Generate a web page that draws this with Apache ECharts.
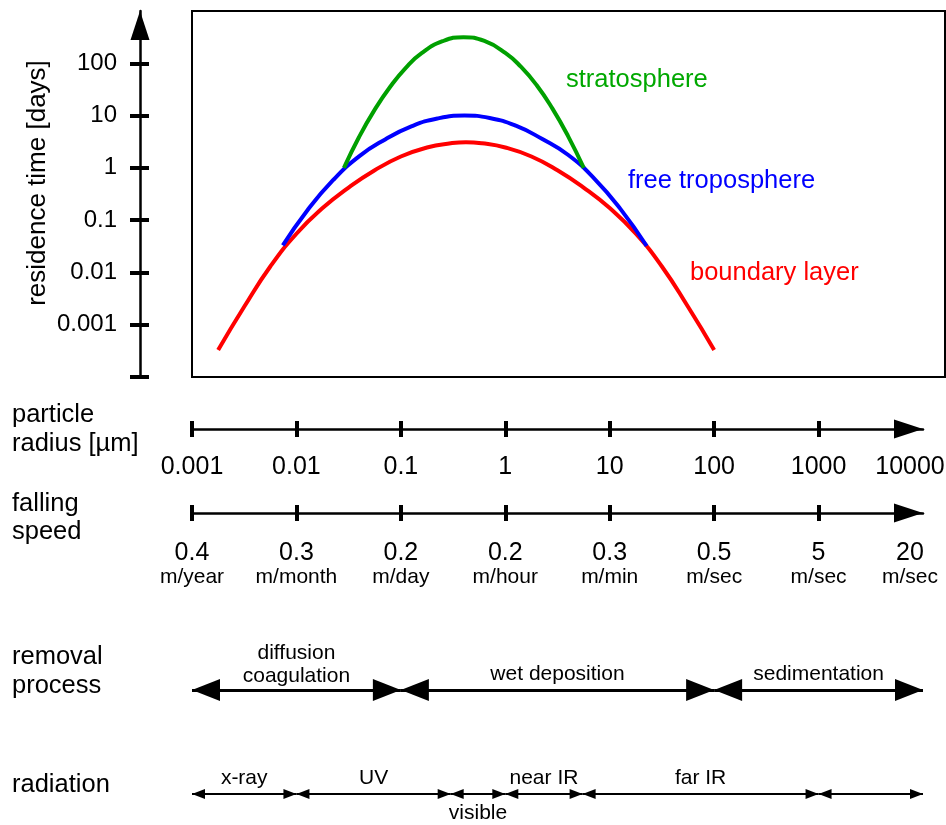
<!DOCTYPE html>
<html lang="en">
<head>
<meta charset="UTF-8">
<title>Aerosol residence time</title>
<script src="https://cdn.jsdelivr.net/npm/echarts@6/dist/echarts.min.js"></script>
<style>html,body{margin:0;padding:0;background:#fff;}</style>
</head>
<body>
<div id="main" style="width:946px;height:825px;"></div>
<script type="text/javascript">
var FONT = '"Liberation Sans", Arial, sans-serif';

// residence time curves: particle radius [µm] and residence time [days]
var boundaryRadius = [0.00178, 0.00316, 0.00562, 0.01, 0.0178, 0.0316, 0.0562, 0.1, 0.178, 0.3,
                      0.42, 0.6, 1, 1.78, 3.16, 5.62, 10, 17.8, 31.6, 56.2, 100];
var boundaryTime   = [3.3e-4, 0.0022, 0.013, 0.055, 0.17, 0.42, 0.9, 1.65, 2.45, 2.95,
                      3.1, 2.95, 2.45, 1.65, 0.9, 0.42, 0.17, 0.055, 0.013, 0.0022, 3.3e-4];
var troposRadius = [0.00741, 0.0126, 0.0224, 0.0398, 0.0708, 0.126, 0.224, 0.407,
                    0.708, 1.26, 2.24, 3.98, 7.08, 12.6, 22.6];
var troposTime   = [0.033, 0.15, 0.58, 1.66, 3.5, 6.2, 8.8, 10,
                    9.0, 6.4, 3.6, 1.78, 0.63, 0.166, 0.032];
var stratoRadius = [0.0285, 0.0398, 0.0562, 0.0794, 0.112, 0.158, 0.251, 0.398,
                    0.631, 1, 1.41, 2.0, 2.82, 3.98, 5.64];
var stratoTime   = [1, 3.9, 13, 36, 83, 156, 264, 316,
                    267, 158, 86, 38, 13.7, 4.1, 1];

// tick labels
var yTickLabels = ['0.001', '0.01', '0.1', '1', '10', '100'];           // 1e-3 .. 1e2
var radiusLabels = ['0.001', '0.01', '0.1', '1', '10', '100', '1000', '10000'];
var speedValues = ['0.4', '0.3', '0.2', '0.2', '0.3', '0.5', '5', '20'];
var speedUnits = ['m/year', 'm/month', 'm/day', 'm/hour', 'm/min', 'm/sec', 'm/sec', 'm/sec'];

// ranges along the radius axis
var removalNames = ['diffusion\ncoagulation', 'wet deposition', 'sedimentation'];
var removalFrom = [0.001, 0.1, 100];
var removalTo = [0.1, 100, 10000];
var radiationNames = ['x-ray', 'UV', 'visible', 'near IR', 'far IR', ''];
var radiationFrom = [0.001, 0.01, 0.3, 1, 5.5, 1000];
var radiationTo = [0.01, 0.3, 1, 5.5, 1000, 10000];

function zip(a, b) {
    return a.map(function (v, i) { return [v, b[i]]; });
}
function decade(v) {
    return Math.round(Math.log10(v));
}

// arrow heads with the tip at the symbol centre
var bigHead = 'path://M11,0 M11,28 L22,56 L0,56 Z';
var smallHead = 'path://M5,0 M5,13 L10,26 L0,26 Z';

var myChart = echarts.init(document.getElementById('main'));

var tickLine = { color: '#000', width: 4 };
var axisArrow = {
    show: true,
    onZero: false,
    lineStyle: { color: '#000', width: 2.5 },
    symbol: ['none', 'triangle'],
    symbolSize: [19, 29],
    symbolOffset: [0, -14.5]
};

function bottomAxis(grid, margin, formatter, rich) {
    return {
        gridIndex: grid, type: 'log', min: 0.001, max: 10000,
        position: 'bottom', offset: -8,
        axisLine: axisArrow,
        axisTick: { show: false },
        splitLine: { show: true, showMinLine: true, showMaxLine: false, lineStyle: tickLine },
        axisLabel: {
            margin: margin, showMinLabel: true, showMaxLabel: true,
            color: '#000', fontFamily: FONT, fontSize: 25,
            formatter: formatter, rich: rich
        }
    };
}

var vStyle = { fontFamily: FONT, fontSize: 25, color: '#000', lineHeight: 25 };
var uStyle = { fontFamily: FONT, fontSize: 21, color: '#000', lineHeight: 23 };
var richRadius = {
    v: vStyle,
    e: Object.assign({}, vStyle, { padding: [0, 26, 0, 0] })
};
var richSpeed = {
    v: vStyle,
    u: uStyle,
    ve: Object.assign({}, vStyle, { padding: [0, 26, 0, 0] }),
    ue: Object.assign({}, uStyle, { padding: [0, 26, 0, 0] })
};

var removalData = removalNames.map(function (n, i) {
    var item = { name: n, coords: [[removalFrom[i], 0], [removalTo[i], 0]] };
    if (n.indexOf('\n') >= 0) item.label = { distance: 2 };
    return item;
});
var radiationData = radiationNames.map(function (n, i) {
    var item = { name: n, coords: [[radiationFrom[i], 0], [radiationTo[i], 0]] };
    if (n === 'visible') item.label = { position: 'insideMiddleBottom', distance: 8 };
    return item;
});

function rowText(x, y, text, size, lh, color) {
    return {
        type: 'text', x: x, y: y, silent: true,
        style: {
            text: text, fill: color || '#000', font: size + 'px ' + FONT,
            lineHeight: lh, textAlign: 'left', verticalAlign: 'middle'
        }
    };
}

myChart.setOption({
    animation: false,
    backgroundColor: '#fff',
    grid: [
        { left: 192, top: 11, width: 753, height: 366, show: true, borderColor: '#000', borderWidth: 2, outerBoundsMode: 'none' },
        { left: 130, top: 11, width: 19, height: 366, outerBoundsMode: 'none' },
        { left: 192, top: 421, width: 731, height: 16, outerBoundsMode: 'none' },
        { left: 192, top: 505, width: 731, height: 16, outerBoundsMode: 'none' },
        { left: 192, top: 680, width: 731, height: 20, outerBoundsMode: 'none' },
        { left: 192, top: 784, width: 731, height: 20, outerBoundsMode: 'none' }
    ],
    xAxis: [
        { gridIndex: 0, type: 'log', min: 0.001, max: 16240, show: false },
        { gridIndex: 1, type: 'value', show: false },
        bottomAxis(2, 26, function (v) {
            var i = decade(v) + 3;
            return (i === 7 ? '{e|' : '{v|') + radiusLabels[i] + '}';
        }, richRadius),
        bottomAxis(3, 28, function (v) {
            var i = decade(v) + 3;
            if (i === 7) return '{ve|' + speedValues[i] + '}\n{ue|' + speedUnits[i] + '}';
            return '{v|' + speedValues[i] + '}\n{u|' + speedUnits[i] + '}';
        }, richSpeed),
        { gridIndex: 4, type: 'log', min: 0.001, max: 10000, show: false },
        { gridIndex: 5, type: 'log', min: 0.001, max: 10000, show: false }
    ],
    yAxis: [
        { gridIndex: 0, type: 'log', min: 1e-4, max: 1000, show: false },
        {
            gridIndex: 1, type: 'log', min: 1e-4, max: 1000,
            position: 'left', offset: -10,
            axisLine: axisArrow,
            axisTick: { show: false },
            splitLine: { show: true, showMinLine: true, showMaxLine: false, lineStyle: { color: '#000', width: 4 } },
            axisLabel: {
                margin: 23, showMinLabel: false, showMaxLabel: false,
                color: '#000', fontFamily: FONT, fontSize: 24,
                formatter: function (v) { return yTickLabels[decade(v) + 3] || ''; }
            }
        },
        { gridIndex: 2, type: 'value', show: false },
        { gridIndex: 3, type: 'value', show: false },
        { gridIndex: 4, type: 'value', min: -1, max: 1, show: false },
        { gridIndex: 5, type: 'value', min: -1, max: 1, show: false }
    ],
    graphic: [
        {
            type: 'text', x: 38, y: 183, rotation: Math.PI / 2, silent: true,
            style: {
                text: 'residence time [days]', fill: '#000', font: '26px ' + FONT,
                textAlign: 'center', verticalAlign: 'middle'
            }
        },
        rowText(12, 429.5, 'particle\nradius [µm]', 25.5, 29),
        rowText(12, 518, 'falling\nspeed', 25.5, 28),
        rowText(12, 671.5, 'removal\nprocess', 25.5, 29),
        rowText(12, 785, 'radiation', 25.5, 29),
        rowText(566, 80, 'stratosphere', 25.5, 29, '#00a800'),
        rowText(628, 181, 'free troposphere', 25.5, 29, '#0000ff'),
        rowText(690, 273, 'boundary layer', 25.5, 29, '#ff0000')
    ],
    series: [
        {
            name: 'boundary layer', type: 'line', xAxisIndex: 0, yAxisIndex: 0,
            data: zip(boundaryRadius, boundaryTime), smooth: true, showSymbol: false,
            lineStyle: { color: '#ff0000', width: 4 }
        },
        {
            name: 'free troposphere', type: 'line', xAxisIndex: 0, yAxisIndex: 0,
            data: zip(troposRadius, troposTime), smooth: true, showSymbol: false,
            lineStyle: { color: '#0000ff', width: 4 }
        },
        {
            name: 'stratosphere', type: 'line', xAxisIndex: 0, yAxisIndex: 0,
            data: zip(stratoRadius, stratoTime), smooth: true, showSymbol: false,
            lineStyle: { color: '#00a000', width: 4 }
        },
        {
            name: 'removal process', type: 'lines', coordinateSystem: 'cartesian2d',
            xAxisIndex: 4, yAxisIndex: 4, silent: true, clip: false,
            symbol: [bigHead, bigHead], symbolSize: [[22, 56], [22, 56]],
            lineStyle: { color: '#000', width: 3, opacity: 1 },
            label: {
                show: true, position: 'middle', formatter: '{b}', distance: 4.5,
                color: '#000', fontFamily: FONT, fontSize: 21, lineHeight: 23
            },
            data: removalData
        },
        {
            name: 'radiation', type: 'lines', coordinateSystem: 'cartesian2d',
            xAxisIndex: 5, yAxisIndex: 5, silent: true, clip: false,
            symbol: [smallHead, smallHead], symbolSize: [[10, 26], [10, 26]],
            lineStyle: { color: '#000', width: 2, opacity: 1 },
            label: {
                show: true, position: 'middle', formatter: '{b}', distance: 4.5,
                color: '#000', fontFamily: FONT, fontSize: 21, lineHeight: 23
            },
            data: radiationData
        }
    ]
});
</script>
</body>
</html>
